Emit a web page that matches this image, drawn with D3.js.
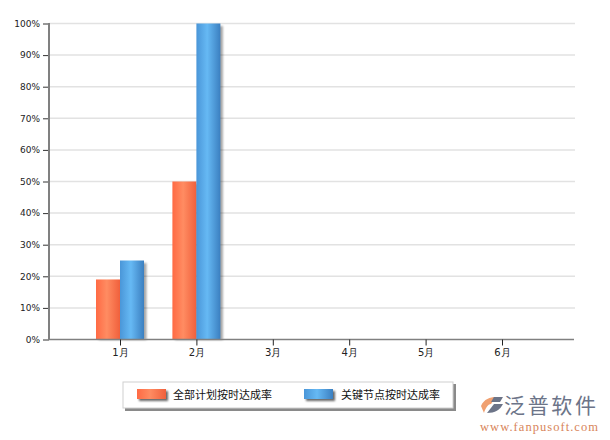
<!DOCTYPE html>
<html><head><meta charset="utf-8">
<script src="https://cdn.jsdelivr.net/npm/d3@7/dist/d3.min.js"></script>
<style>body{margin:0;background:#fff}svg{display:block}</style>
</head><body><svg id="c" width="610" height="440"></svg>
<script>
const months = ["1月","2月","3月","4月","5月","6月"];
const seriesNames = ["全部计划按时达成率","关键节点按时达成率"];
const planRate = [19, 50, 0, 0, 0, 0];
const keyRate = [25, 100, 0, 0, 0, 0];
const yTicks = [0,10,20,30,40,50,60,70,80,90,100];

(function(){
const svg = d3.select("#c");
const font = "Tahoma, Verdana, 'DejaVu Sans', sans-serif";
const pLeft = 49, pRight = 574, pTop = 23.5, pBottom = 339.5;
const x = d3.scalePoint().domain(months).range([120, 502]);
const y = d3.scaleLinear().domain([0,100]).range([pBottom, pTop]);
const bw = 24;

const defs = svg.append("defs");
function grad(id, stops){
  const g = defs.append("linearGradient").attr("id", id).attr("x1","0").attr("x2","1").attr("y1","0").attr("y2","0");
  stops.forEach(s => g.append("stop").attr("offset", s[0]).attr("stop-color", s[1]));
}
grad("gO", [[0,"#ff6a44"],[0.45,"#ff8c62"],[1,"#f0603c"]]);
grad("gB", [[0,"#4a96d8"],[0.45,"#66b9f4"],[1,"#3b7fc0"]]);
const f = defs.append("filter").attr("id","sh").attr("x","-20%").attr("y","-20%").attr("width","150%").attr("height","150%");
f.append("feGaussianBlur").attr("in","SourceAlpha").attr("stdDeviation",0.8);

// grid
svg.append("g").selectAll("line").data(yTicks.filter(d=>d>0)).join("line")
  .attr("x1", pLeft).attr("x2", pRight+1).attr("y1", d=>y(d)).attr("y2", d=>y(d))
  .attr("stroke", "#e2e2e2").attr("stroke-width", 1.5);

// y axis
const ya = svg.append("g").attr("transform", `translate(${pLeft},0)`)
  .call(d3.axisLeft(y).tickValues(yTicks).tickFormat(d=>d+"%").tickSize(6).tickPadding(3));
ya.select(".domain").remove();
ya.selectAll(".tick line").attr("stroke","#333");
ya.selectAll("text").attr("font-family", font).attr("font-size", 9).attr("fill","#222");
svg.append("line").attr("x1", pLeft).attr("x2", pLeft).attr("y1", pTop-0.5).attr("y2", pBottom+0.5)
  .attr("stroke","#808080").attr("stroke-width",2);

// bars
const data = months.map((m,i)=>({m, a: planRate[i], b: keyRate[i]}));
const g = svg.append("g");
data.forEach(d => {
  [[d.a, -bw], [d.b, 0]].forEach(([v, off]) => {
    if (v <= 0) return;
    g.append("rect").attr("x", x(d.m)+off+2.5).attr("y", y(v)+2.5).attr("width", bw).attr("height", pBottom - y(v) - 2)
      .attr("fill", "#000").attr("opacity", 0.35).attr("filter","url(#sh)");
  });
});
data.forEach(d => {
  [[d.a, -bw, "url(#gO)"], [d.b, 0, "url(#gB)"]].forEach(([v, off, fill]) => {
    if (v <= 0) return;
    g.append("rect").attr("x", x(d.m)+off).attr("y", y(v)).attr("width", bw).attr("height", pBottom - y(v))
      .attr("fill", fill);
  });
});

// x axis
svg.append("line").attr("x1", pLeft).attr("x2", pRight).attr("y1", pBottom).attr("y2", pBottom)
  .attr("stroke","#808080").attr("stroke-width",1.5);
const xa = svg.append("g").attr("transform", `translate(0,${pBottom})`)
  .call(d3.axisBottom(x).tickSize(6).tickPadding(3));
xa.select(".domain").remove();
xa.selectAll(".tick line").attr("stroke","#222");
xa.selectAll("text").attr("font-family", font).attr("font-size", 10).attr("fill","#222");

// legend
const lg = svg.append("g");
lg.append("rect").attr("x",125).attr("y",384).attr("width",331).attr("height",27).attr("fill","#8a8a8a");
lg.append("rect").attr("x",123).attr("y",382).attr("width",330).attr("height",26).attr("fill","#fff").attr("stroke","#cfcfcf");
const items = [{n: seriesNames[0], fill:"url(#gO)", sx:137, tx:173},{n: seriesNames[1], fill:"url(#gB)", sx:304, tx:341}];
items.forEach(it => {
  lg.append("rect").attr("x", it.sx+2).attr("y", 391).attr("width", 29).attr("height", 10).attr("fill","#555").attr("opacity",0.6).attr("filter","url(#sh)");
  lg.append("rect").attr("x", it.sx).attr("y", 389).attr("width", 29).attr("height", 10).attr("fill", it.fill);
  lg.append("text").attr("x", it.tx).attr("y", 399).attr("font-family","'Noto Sans CJK SC', sans-serif").attr("font-size", 11).attr("fill","#111").text(it.n);
});

// watermark
const wm = svg.append("g");
wm.append("path").attr("d","M481,406 C484,399 490,397 496,397 L491,404 C488,404 485,409 484,413 Z").attr("fill","#f0a070");
wm.append("path").attr("d","M487,413 L494,404 L503,404 C500,410 495,413 487,413 Z").attr("fill","#6c7488");
wm.append("path").attr("d","M494,397 L503,397 L500,402 L491,402 Z").attr("fill","#6c7488");
wm.append("text").attr("x", 504).attr("y", 413).attr("font-family","'Noto Sans CJK SC', sans-serif").attr("font-size", 21).attr("textLength",92).attr("fill","#6c7488").text("泛普软件");
wm.append("text").attr("x", 480).attr("y", 431).attr("font-family","'Liberation Serif', 'DejaVu Serif', serif").attr("font-size", 12.5).attr("fill","#d8855a").attr("textLength",118).text("www.fanpusoft.com");
})();
</script></body></html>
